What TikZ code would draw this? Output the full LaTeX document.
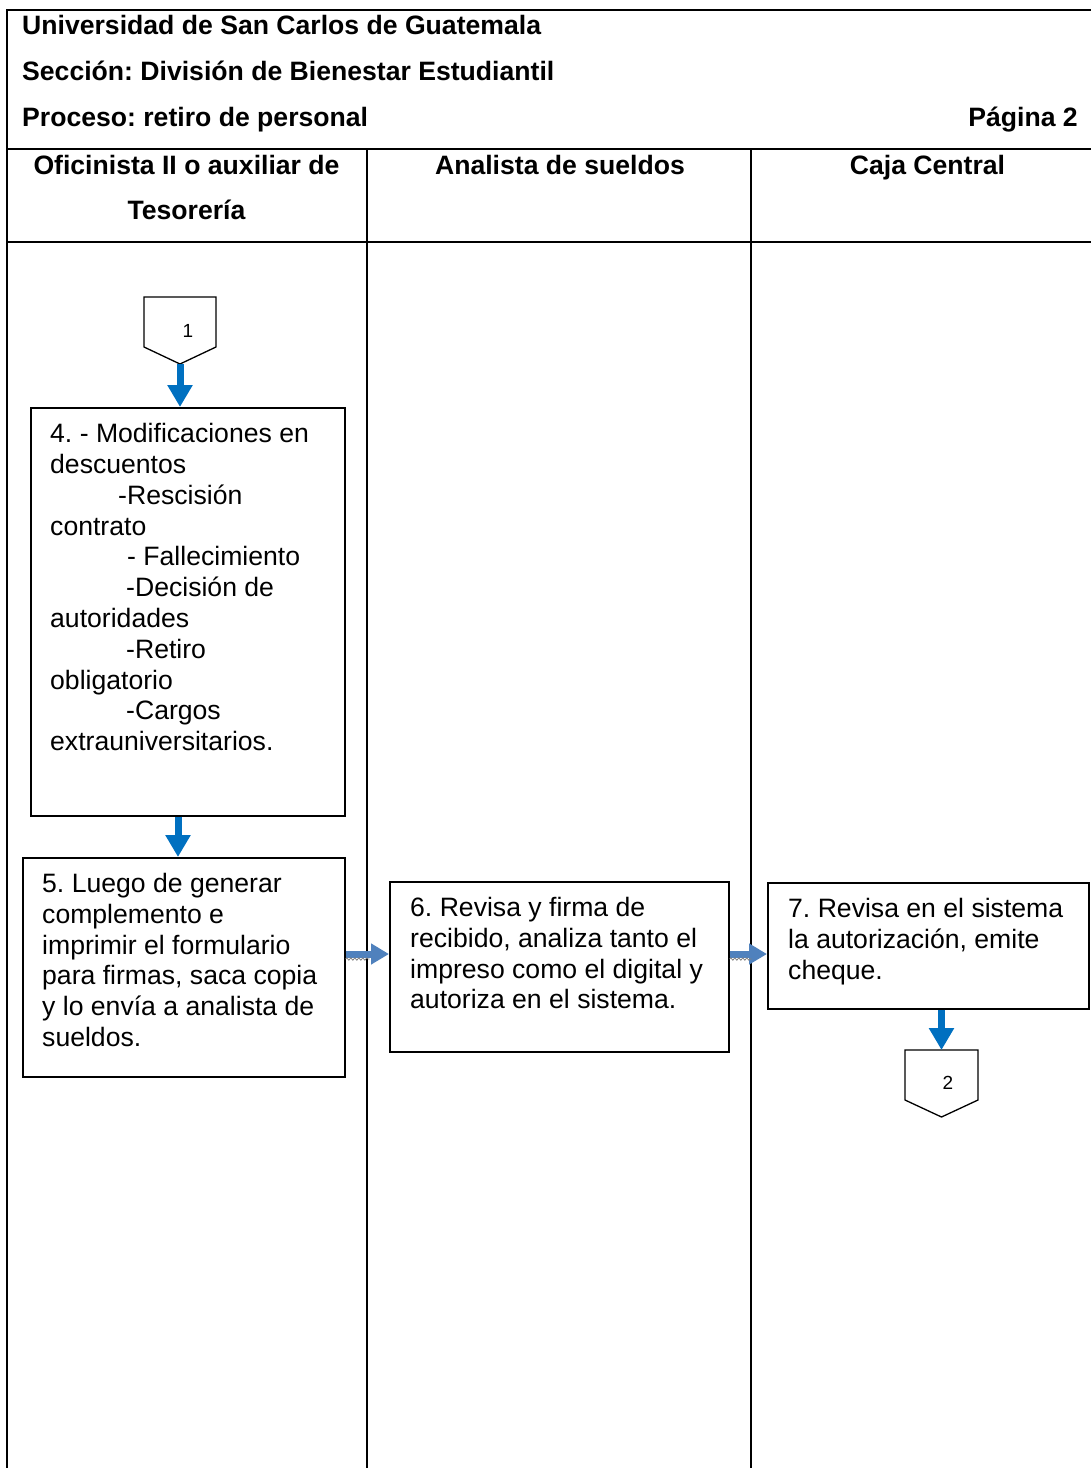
\documentclass[tikz,border=0pt]{standalone}
\usepackage{fontspec}
\setmainfont{Liberation Sans}
\frenchspacing
\usetikzlibrary{arrows.meta,decorations.pathmorphing}
\definecolor{flowblue}{RGB}{0,112,192}
\definecolor{linkblue}{RGB}{79,129,189}

\begin{document}
\begin{tikzpicture}[x=1pt,y=-1pt,
  frame/.style={line width=2pt},
  box/.style={draw, line width=1.6pt, inner sep=0pt, anchor=north west},
  % multi-line texts are placed by the baseline of their last line
  txt/.style={inner sep=0pt, align=left, anchor=base west, font=\fontsize{26.6}{30.8}\selectfont},
  head/.style={inner sep=0pt, font=\fontsize{26.6}{30.8}\selectfont\bfseries},
  num/.style={inner sep=0pt, font=\fontsize{19}{22}\selectfont},
  conn/.style={draw, line width=1.3pt, line join=miter},
  vflow/.style={draw=flowblue, line width=7pt, -{Triangle[width=24pt,length=22pt]}},
  hflow/.style={draw=linkblue, line width=7pt, -{Triangle[width=20pt,length=18pt]}},
  wave/.style={draw=gray, line width=0.8pt, decorate, decoration={snake, amplitude=1.2pt, segment length=4pt}}]

\useasboundingbox (0,0) rectangle (1091,1468);

% table frame and swimlanes
\draw[frame] (1091,10) -- (7,10) -- (7,1468);
\draw[frame] (7,149) -- (1091,149);
\draw[frame] (7,242) -- (1091,242);
\draw[frame] (367,149) -- (367,1468);
\draw[frame] (751,149) -- (751,1468);

% title block
\node[head, anchor=base west] (h1) at (22,34.6) {Universidad de San Carlos de Guatemala};
\node[head, anchor=base west] (h2) at (22,80.5) {Sección: División de Bienestar Estudiantil};
\node[head, anchor=base west] (h3) at (22,126.5) {Proceso: retiro de personal};
\node[head, anchor=base east] (pg) at (1078,126.5) {Página 2};

% lane headings
\node[head, anchor=base] (l1a) at (186.5,174.5) {Oficinista II o auxiliar de};
\node[head, anchor=base] (l1b) at (186.5,219.5) {Tesorería};
\node[head, anchor=base] (l2) at (560,174.5) {Analista de sueldos};
\node[head, anchor=base] (l3) at (927.5,174.5) {Caja Central};

% off-page connector 1
\draw[conn] (144,297) -- (216,297) -- (216,347) -- (180,364) -- (144,347) -- cycle;
\coordinate (c1tip) at (180,364);
\node[num] (c1) at (188,331) {1};

% step 4
\node[box, minimum width=314pt, minimum height=408pt] (b4) at (30,407) {};
\node[txt] (t4) at (50,750.6) {4. - Modificaciones en\\
descuentos\\
\hspace*{68pt}-Rescisión\\
contrato\\
\hspace*{77pt}- Fallecimiento\\
\hspace*{76pt}-Decisión de\\
autoridades\\
\hspace*{76pt}-Retiro\\
obligatorio\\
\hspace*{76pt}-Cargos\\
extrauniversitarios.};

% step 5
\node[box, minimum width=322pt, minimum height=219pt] (b5) at (22,857) {};
\node[txt] (t5) at (42,1046.5) {5. Luego de generar\\
complemento e\\
imprimir el formulario\\
para firmas, saca copia\\
y lo envía a analista de\\
sueldos.};

% step 6
\node[box, minimum width=339pt, minimum height=170pt] (b6) at (389,881) {};
\node[txt] (t6) at (410,1008.9) {6. Revisa y firma de\\
recibido, analiza tanto el\\
impreso como el digital y\\
autoriza en el sistema.};

% step 7
\node[box, minimum width=321pt, minimum height=126pt] (b7) at (767,882) {};
\node[txt] (t7) at (788,979.1) {7. Revisa en el sistema\\
la autorización, emite\\
cheque.};

% off-page connector 2
\draw[conn] (905,1050) -- (978,1050) -- (978,1100) -- (941.5,1117) -- (905,1100) -- cycle;
\coordinate (c2top) at (941.5,1050);
\node[num] (c2) at (948,1083) {2};

% vertical flow arrows
\coordinate (ax) at (178,0);
\draw[vflow] (c1tip) -- (c1tip |- b4.north);
\draw[vflow] (ax |- b4.south) -- (ax |- b5.north);
\draw[vflow] (c2top |- b7.south) -- (c2top);

% horizontal flow arrows between lanes
\coordinate (hy) at (0,954);
\coordinate (hw) at (0,959);
\draw[hflow] (b5.east |- hy) -- (b6.west |- hy);
\draw[hflow] (b6.east |- hy) -- (b7.west |- hy);
\draw[wave] (b5.east |- hw) -- ++(24,0);
\draw[wave] (b6.east |- hw) -- ++(22,0);

\end{tikzpicture}
\end{document}
